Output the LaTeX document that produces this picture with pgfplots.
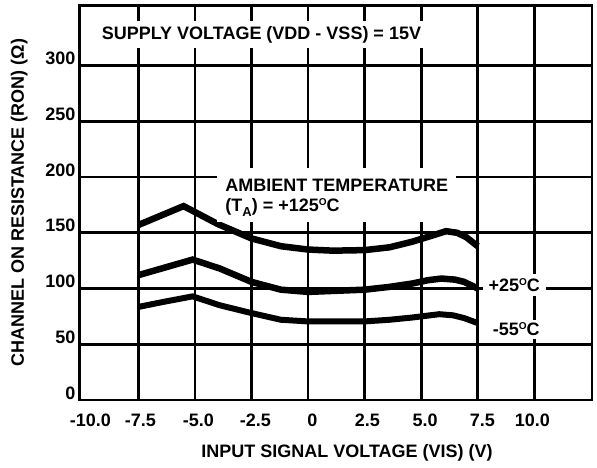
\documentclass[border=0pt]{standalone}
\usepackage{fontspec}
\setmainfont{Liberation Sans}
\usepackage{pgfplots}
\pgfplotsset{compat=1.18}
\newcommand{\degO}{\raisebox{6bp}{\fontsize{10bp}{10bp}\selectfont O}}
\newcommand{\subA}{\raisebox{-5bp}{\fontsize{13bp}{13bp}\selectfont A}}
\begin{document}
\begin{tikzpicture}[font=\fontsize{18bp}{20bp}\selectfont\bfseries]
\useasboundingbox (0,0) rectangle (597bp,468bp);
\begin{axis}[
  at={(79.5bp,68bp)}, anchor=south west,
  scale only axis, width=512.5bp, height=394.5bp,
  xmin=-10.1, xmax=12.55, ymin=0, ymax=354,
  axis line style={line width=2.7bp},
  xtick={-7.5,-5,-2.5,0,2.5,5,7.5,10}, xticklabels={},
  ytick={0,50,100,150,200,250,300},
  grid=major, major grid style={black, line width=2.7bp},
  tick style={draw=none},
  /pgf/number format/assume math mode=true,
  yticklabel style={anchor=base east, inner sep=0pt, xshift=-4bp, yshift=1bp},
  extra x ticks={-9.62,-7.41,-4.85,-2.33,0.19,2.62,5.18,7.70,9.91},
  extra x tick labels={-10.0,-7.5,-5.0,-2.5,0,2.5,5.0,7.5,10.0},
  extra x tick style={grid=none, xticklabel style={anchor=base, inner sep=0pt, yshift=-26bp}},
  xlabel={INPUT SIGNAL VOLTAGE (VIS) (V)},
  ylabel={CHANNEL ON RESISTANCE (RON) (Ω)},
  xlabel style={at={(axis description cs:0.522,-0.147)}, anchor=base},
  ylabel style={at={(axis description cs:-0.1083,0.5)}, anchor=base},
]
% +125 C
\addplot[black, line width=6.5bp, line join=miter, line cap=butt] coordinates {
 (-7.5,157) (-5.5,174) (-4.0,158) (-2.5,145) (-1.2,138) (0,135) (1.1,134)
 (2.5,134.5) (3.6,137) (4.6,142) (5.4,147) (6.1,151.5) (6.6,150) (7.0,146) (7.5,138)};
% +25 C
\addplot[black, line width=6.5bp, line join=miter, line cap=butt] coordinates {
 (-7.5,112) (-5.1,126) (-3.9,118) (-2.5,106) (-1.2,99) (0,97) (2.5,99)
 (3.6,101.5) (4.6,104.5) (5.3,107.5) (5.9,109) (6.5,108) (6.9,106) (7.5,100)};
% -55 C
\addplot[black, line width=6bp, line join=miter, line cap=butt] coordinates {
 (-7.5,83.5) (-6.4,88) (-5.1,93) (-3.9,85) (-2.5,78) (-1.2,72) (0,70.5)
 (2.5,70.5) (3.6,72) (4.6,74) (5.8,77) (6.4,76) (6.9,73.5) (7.5,69)};
\node[fill=white, inner xsep=6bp, inner ysep=5bp, anchor=base] at (axis cs:-2.06,323.5)
  {SUPPLY VOLTAGE (VDD - VSS) = 15V};
\node[fill=white, align=left, inner xsep=8bp, inner ysep=0pt, anchor=north west] at (axis cs:-4.01,208.4)
  {\rule{0pt}{24bp}AMBIENT TEMPERATURE\\ \rule[-10bp]{0pt}{10bp}(T\subA) = +125\degO C};
\node[fill=white, inner xsep=6bp, inner ysep=4bp, anchor=base] at (axis cs:9.11,97.5) {+25\degO C};
\node[fill=white, inner xsep=6bp, inner ysep=3bp, anchor=base] at (axis cs:9.2,57.5) {-55\degO C};
\end{axis}
\end{tikzpicture}
\end{document}
